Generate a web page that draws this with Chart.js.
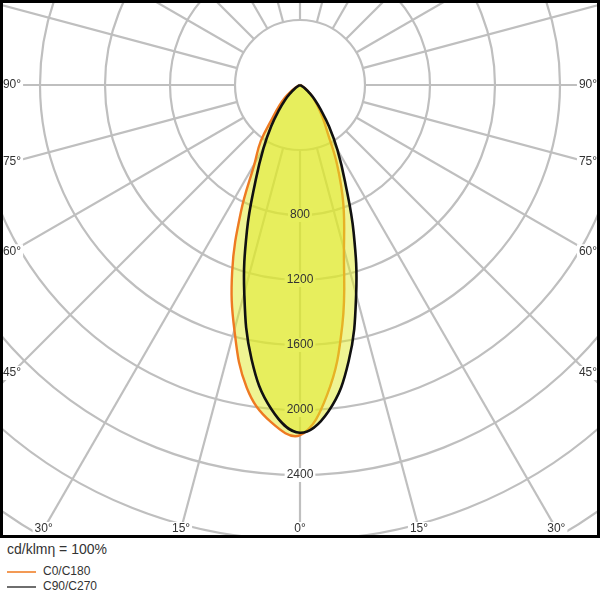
<!DOCTYPE html>
<html>
<head>
<meta charset="utf-8">
<script src="https://cdn.jsdelivr.net/npm/chart.js@4.4.1/dist/chart.umd.min.js"></script>
<style>
  body { margin: 0; background: #fff; font-family: "Liberation Sans", Arial, sans-serif; color: #333; }
  #wrap { position: relative; width: 600px; height: 538px; }
  #legend { position: absolute; left: 7px; top: 540px; }
  #legend .title { font-size: 14px; line-height: 18px; }
  #legend .item { font-size: 12px; line-height: 15px; display: flex; align-items: center; }
  #legend .swatch { display: inline-block; width: 29px; height: 2px; margin-right: 7px; }
</style>
</head>
<body>
<div id="wrap"><canvas id="polarChart"></canvas></div>
<div id="legend">
  <div class="title">cd/klmη = 100%</div>
  <div class="item" style="margin-top:6px"><span class="swatch" style="background:#f39a55"></span>C0/C180</div>
  <div class="item"><span class="swatch" style="background:#6e6e6e"></span>C90/C270</div>
</div>
<script>
// gamma angles (deg, 0 = straight down)
const angles = [0, 5, 10, 15, 20, 25, 30, 35, 40, 45, 50, 55, 60, 65, 70, 75, 80, 85, 90];

// intensities in cd/klm
const c0   = [2155, 1914, 1500, 1045, 780, 540, 340, 240, 170, 120, 75, 40, 15, 5, 0, 0, 0, 0, 0];
const c180 = [2160, 2080, 1890, 1560, 1220, 860, 560, 420, 260, 180, 120, 70, 30, 10, 0, 0, 0, 0, 0];
const c90  = [2140, 2015, 1725, 1335, 965, 655, 460, 312, 200, 130, 75, 40, 15, 5, 0, 0, 0, 0, 0];
const c270 = [2140, 2005, 1715, 1325, 955, 645, 450, 308, 200, 130, 75, 40, 15, 5, 0, 0, 0, 0, 0];

// grid rings and labels
const rings = [400, 800, 1200, 1600, 2000, 2400, 2800, 3200, 3600];
const ringLabels = [800, 1200, 1600, 2000, 2400];
const spokeStep = 15;
const sideAngles = [45, 60, 75, 90];
const bottomAngles = [30, 15, 0, 15, 30];

// scale: 65 px per 400 cd, pole at (300, 85)
const pxPerCd = 65 / 400;
const xMax = 300 / pxPerCd;
const yMax = 85 / pxPerCd;
const yMin = -(538 - 85) / pxPerCd;

const rad = d => d * Math.PI / 180;

// build a closed loop: right half from 90 down to 0, then left half back up to 90
function loop(right, left) {
    const pts = [];
    for (let i = angles.length - 1; i >= 0; i--) {
        pts.push({ x: right[i] * Math.sin(rad(angles[i])), y: -right[i] * Math.cos(rad(angles[i])) });
    }
    for (let i = 1; i < angles.length; i++) {
        pts.push({ x: -left[i] * Math.sin(rad(angles[i])), y: -left[i] * Math.cos(rad(angles[i])) });
    }
    return pts;
}

function labelBox(ctx, text, x, y) {
    const w = ctx.measureText(text).width;
    ctx.fillStyle = '#fff';
    ctx.fillRect(x - w / 2 - 2, y - 7, w + 4, 14);
}

// polar grid drawn under the curves
const polarGrid = {
    id: 'polarGrid',
    beforeDatasetsDraw(chart) {
        const { ctx, chartArea: a, scales: { x, y } } = chart;
        const cx = x.getPixelForValue(0);
        const cy = y.getPixelForValue(0);
        const px = v => x.getPixelForValue(v) - cx;

        ctx.save();
        ctx.beginPath();
        ctx.rect(a.left, a.top, a.width, a.height);
        ctx.clip();

        ctx.strokeStyle = '#bfbfbf';
        ctx.lineWidth = 2.2;
        rings.forEach(v => {
            ctx.beginPath();
            ctx.arc(cx, cy, px(v), 0, Math.PI * 2);
            ctx.stroke();
        });
        const r0 = px(rings[0]);
        const r1 = px(8000);
        for (let g = 0; g < 360; g += spokeStep) {
            const s = Math.sin(rad(g)), c = Math.cos(rad(g));
            ctx.beginPath();
            ctx.moveTo(cx + r0 * s, cy + r0 * c);
            ctx.lineTo(cx + r1 * s, cy + r1 * c);
            ctx.stroke();
        }

        ctx.font = '12px "Liberation Sans", Arial, sans-serif';
        ctx.textAlign = 'center';
        ctx.textBaseline = 'middle';

        // clear spots for ring labels (text drawn later, on top of the fill)
        ringLabels.forEach(v => labelBox(ctx, String(v), cx, cy + px(v)));

        // side labels
        const lx = a.left + 12, rx = a.right - 12;
        sideAngles.forEach(g => {
            const d = cx - lx;
            const ly = cy + d * Math.cos(rad(g)) / Math.sin(rad(g));
            const t = g + '°';
            labelBox(ctx, t, lx, ly);
            labelBox(ctx, t, rx, ly);
            ctx.fillStyle = '#333';
            ctx.fillText(t, lx, ly);
            ctx.fillText(t, rx, ly);
        });

        // bottom labels
        const by = a.bottom - 9;
        bottomAngles.forEach((g, i) => {
            const sign = i < bottomAngles.length / 2 - 0.5 ? -1 : 1;
            const bx = cx + sign * (by - cy) * Math.tan(rad(g));
            const t = g + '°';
            labelBox(ctx, t, bx, by);
            ctx.fillStyle = '#333';
            ctx.fillText(t, bx, by);
        });
        ctx.restore();
    },
    afterDatasetsDraw(chart) {
        const { ctx, chartArea: a, scales: { x, y } } = chart;
        const cx = x.getPixelForValue(0);
        const cy = y.getPixelForValue(0);
        ctx.save();
        ctx.font = '12px "Liberation Sans", Arial, sans-serif';
        ctx.textAlign = 'center';
        ctx.textBaseline = 'middle';
        ctx.fillStyle = '#333';
        ringLabels.forEach(v => {
            ctx.fillText(String(v), cx, cy + (x.getPixelForValue(v) - cx));
        });
        // frame
        ctx.strokeStyle = '#000';
        ctx.lineWidth = 3;
        ctx.strokeRect(a.left + 1.5, a.top + 1.5, a.width - 3, a.height - 3);
        ctx.restore();
    }
};

new Chart(document.getElementById('polarChart'), {
    type: 'scatter',
    data: {
        datasets: [
            {
                label: 'C90/C270',
                data: loop(c90, c270),
                showLine: true,
                borderColor: '#111',
                borderWidth: 2.6,
                backgroundColor: 'rgba(224, 234, 40, 0.5)',
                fill: 'shape',
                tension: 0.4,
                pointRadius: 0,
                order: 0
            },
            {
                label: 'C0/C180',
                data: loop(c0, c180),
                showLine: true,
                borderColor: '#ee7a22',
                borderWidth: 2.4,
                backgroundColor: 'rgba(224, 234, 40, 0.5)',
                fill: 'shape',
                tension: 0.4,
                pointRadius: 0,
                order: 1
            }
        ]
    },
    options: {
        responsive: true,
        maintainAspectRatio: false,
        animation: false,
        events: [],
        layout: { padding: 0 },
        plugins: {
            legend: { display: false },
            tooltip: { enabled: false }
        },
        scales: {
            x: { type: 'linear', display: false, min: -xMax, max: xMax },
            y: { type: 'linear', display: false, min: yMin, max: yMax }
        }
    },
    plugins: [polarGrid]
});
</script>
</body>
</html>
